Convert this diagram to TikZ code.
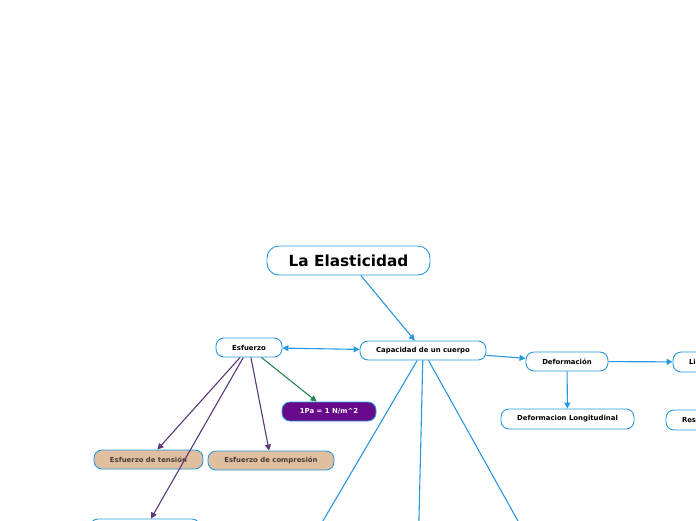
\documentclass[tikz,border=0pt]{standalone}
\usepackage{fontspec}
\setmainfont{DejaVu Sans}
\usetikzlibrary{arrows.meta}
\definecolor{bl}{RGB}{40,152,222}
\definecolor{pl}{RGB}{92,56,122}
\definecolor{gr}{RGB}{36,135,80}
\definecolor{pf}{RGB}{104,8,138}
\definecolor{tan}{RGB}{224,191,160}
\definecolor{tx}{RGB}{70,60,55}
\tikzset{
  box/.style={draw=bl, line width=0.9pt, fill=white, rounded corners=8pt, inner sep=0pt,
    font=\fontsize{6.9}{7.5}\selectfont\bfseries, text=black},
  titlebox/.style={box, rounded corners=12pt, font=\fontsize{15.3}{17}\selectfont\bfseries},
  tanbox/.style={box, fill=tan, text=tx},
  purbox/.style={box, fill=pf, text=white},
  blarrow/.style={draw=bl, line width=1.1pt, -{Triangle[length=6pt,width=6pt]}},
  plarrow/.style={draw=pl, line width=1.1pt, -{Triangle[length=6pt,width=6pt]}},
  grarrow/.style={draw=gr, line width=1.1pt, -{Triangle[length=6pt,width=6pt]}},
}
\begin{document}
\begin{tikzpicture}[x=1pt,y=-1pt]
\useasboundingbox (0,0) rectangle (696,520);
\clip (0,0) rectangle (696,520);
\node[titlebox, minimum width=163pt, minimum height=29pt] (title) at (348.5,260.5) {La Elasticidad};
\node[box, minimum width=66pt, minimum height=19pt] (esf) at (249,347.5) {Esfuerzo};
\node[box, minimum width=126pt, minimum height=19pt] (cap) at (423,350.5) {Capacidad de un cuerpo};
\node[box, minimum width=82pt, minimum height=19pt] (def) at (567,361.5) {Deformación};
\node[box, minimum width=90pt, minimum height=20pt, text width=58pt, align=left] (lim) at (718,362) {Li};
\node[box, minimum width=133pt, minimum height=20pt] (dlong) at (567.5,419) {Deformacion Longitudinal};
\node[box, minimum width=90pt, minimum height=20pt, text width=58pt, align=left] (res) at (711,420) {Res};
\node[purbox, minimum width=94pt, minimum height=19pt] (pa) at (329,411.5) {1Pa = 1 N/m\^{}2};
\node[tanbox, minimum width=109pt, minimum height=19pt] (ten) at (148.5,459.5) {Esfuerzo de tensión};
\node[tanbox, minimum width=126pt, minimum height=19pt] (comp) at (271,460.5) {Esfuerzo de compresión};
\node[box, minimum width=110pt, minimum height=20pt] (bot) at (145,529) {};
\coordinate (c1) at (300,560);
\coordinate (c2) at (418,560);
\coordinate (c3) at (539.7,560);

\draw[blarrow] (title) -- (cap);
\draw[blarrow, {Triangle[length=6pt,width=6pt]}-{Triangle[length=6pt,width=6pt]}] (esf) -- (cap);
\draw[blarrow] (cap) -- (def);
\draw[blarrow] (def) -- (lim);
\draw[blarrow] (def) -- (dlong);
\draw[grarrow] (esf) -- (pa);
\draw[plarrow] (esf) -- (ten);
\draw[plarrow] (esf) -- (comp);
\draw[plarrow] (esf) -- (bot);
\draw[blarrow] (cap) -- (c1);
\draw[blarrow] (cap) -- (c2);
\draw[blarrow] (cap) -- (c3);
\end{tikzpicture}
\end{document}
